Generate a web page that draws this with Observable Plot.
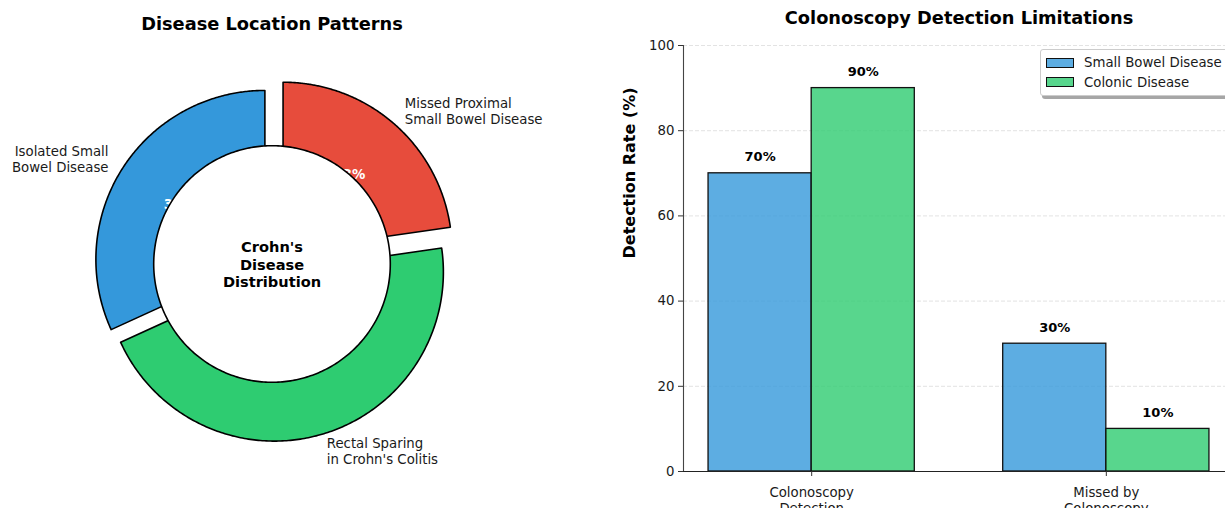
<!DOCTYPE html>
<html>
<head>
<meta charset="utf-8">
<script src="https://cdn.jsdelivr.net/npm/d3@7"></script>
<script src="https://cdn.jsdelivr.net/npm/@observablehq/plot@0.6"></script>
<style>
  html, body { margin: 0; padding: 0; background: #fff; overflow: hidden; width: 1225px; height: 508px; }
  #page { position: relative; width: 1225px; height: 508px; overflow: hidden; font-family: "DejaVu Sans", sans-serif; }
  #donut { position: absolute; left: 0; top: 0; width: 600px; height: 508px; }
  #bars { position: absolute; left: 600px; top: 0; width: 640px; height: 530px; }
  #donut svg, #bars svg { max-width: none !important; }
  #legend {
    position: absolute; left: 1040px; top: 49px;
    padding: 3px 6px 3px 5px;
    border: 1px solid #cccccc; border-radius: 3px; background: #fff;
    box-shadow: 2px 3px 0 rgba(0, 0, 0, 0.35);
    font-family: "DejaVu Sans", sans-serif; font-size: 13.3px; color: #1a1a1a;
    white-space: nowrap;
  }
  #legend .row { display: flex; align-items: center; height: 19.4px; }
  #legend .sw { display: inline-block; width: 26px; height: 8px; border: 1px solid #111; margin-right: 10px; }
</style>
</head>
<body>
<div id="page">
  <div id="donut"></div>
  <div id="bars"></div>
  <div id="legend"></div>
</div>
<script>
// Disease location shares (Crohn's disease distribution)
const locationLabels = ["Isolated Small\nBowel Disease", "Rectal Sparing\nin Crohn's Colitis", "Missed Proximal\nSmall Bowel Disease"];
const locationValues = [35, 50, 25];
const locationColors = ["#3498db", "#2ecc71", "#e74c3c"];
const locationExplode = [0.05, 0.05, 0.1];
const donutTitle = "Disease Location Patterns";
const donutCenterText = "Crohn's\nDisease\nDistribution";

// Detection rates by colonoscopy
const detectionGroups = ["Colonoscopy\nDetection", "Missed by\nColonoscopy"];
const detectionSeries = ["Small Bowel Disease", "Colonic Disease"];
const smallBowelRates = [70, 30];
const colonicRates = [90, 10];
const seriesColors = ["#3498db", "#2ecc71"];
const rateTicks = [0, 20, 40, 60, 80, 100];
const barsTitle = "Colonoscopy Detection Limitations";
const rateLabel = "Detection Rate (%)";

const FONT = "DejaVu Sans, sans-serif";
const TEXT = "#1a1a1a";

// ---------- donut ----------
const DW = 600, DH = 508;      // svg size
const CX = 271.5, CY = 263.5;  // donut centre in svg pixels
const RPX = 169;               // outer radius in pixels
const HOLE = 0.7;              // inner white disc radius (fraction of R)
const LABEL_DIST = 1.1, PCT_DIST = 0.6;
const rad = a => a * Math.PI / 180;

const total = d3.sum(locationValues);
let start = 90;
const wedges = locationValues.map((v, i) => {
  const sweep = v / total * 360;
  const mid = start + sweep / 2;
  const w = {
    i, a0: start, a1: start + sweep, mid,
    ox: locationExplode[i] * Math.cos(rad(mid)),
    oy: locationExplode[i] * Math.sin(rad(mid)),
    color: locationColors[i],
    label: locationLabels[i],
    pct: d3.format(".0f")(v / total * 100) + "%"
  };
  start += sweep;
  return w;
});

const wedgePoints = wedges.flatMap(w => {
  const pts = [{slice: w.i, x: w.ox, y: w.oy, color: w.color}];
  const n = 240;
  for (let k = 0; k <= n; k++) {
    const t = rad(w.a0 + (w.a1 - w.a0) * k / n);
    pts.push({slice: w.i, x: w.ox + Math.cos(t), y: w.oy + Math.sin(t), color: w.color});
  }
  return pts;
});

const holePoints = d3.range(0, 361).map(a => ({x: HOLE * Math.cos(rad(a)), y: HOLE * Math.sin(rad(a))}));

const labelPos = wedges.map(w => ({
  text: w.label,
  x: w.ox + LABEL_DIST * Math.cos(rad(w.mid)),
  y: w.oy + LABEL_DIST * Math.sin(rad(w.mid))
}));
const pctPos = wedges.map(w => ({
  text: w.pct,
  x: w.ox + PCT_DIST * Math.cos(rad(w.mid)),
  y: w.oy + PCT_DIST * Math.sin(rad(w.mid))
}));

const donut = Plot.plot({
  width: DW, height: DH,
  margin: 0,
  x: {domain: [-CX / RPX, (DW - CX) / RPX], axis: null},
  y: {domain: [(CY - DH) / RPX, CY / RPX], axis: null},
  color: {type: "identity"},
  style: {fontFamily: FONT, color: TEXT, background: "transparent", overflow: "visible", maxWidth: "none"},
  marks: [
    Plot.line(wedgePoints, {x: "x", y: "y", z: "slice", fill: "color", stroke: "#000", strokeWidth: 1.6, curve: "linear-closed"}),
    Plot.text(pctPos, {x: "x", y: "y", text: "text", fill: "#fff", fontSize: 13.3, fontWeight: "bold"}),
    Plot.line(holePoints, {x: "x", y: "y", fill: "#fff", stroke: "#000", strokeWidth: 1.6, curve: "linear-closed"}),
    Plot.text([donutCenterText], {x: () => 0, y: () => 0, text: d => d, fontSize: 14.6, fontWeight: "bold", lineHeight: 1.2, fill: "#000"}),
    Plot.text(labelPos.filter(d => d.x < 0), {x: "x", y: "y", text: "text", textAnchor: "end", fontSize: 13.3, lineHeight: 1.2, fill: TEXT}),
    Plot.text(labelPos.filter(d => d.x >= 0), {x: "x", y: "y", text: "text", textAnchor: "start", fontSize: 13.3, lineHeight: 1.2, fill: TEXT}),
    Plot.text([donutTitle], {x: () => 0, frameAnchor: "top", text: d => d, lineAnchor: "bottom", dy: 29.5, fontSize: 17.8, fontWeight: "bold", fill: "#000"})
  ]
});
document.getElementById("donut").append(donut);

// ---------- grouped bars ----------
const BW = 640, BH = 530;
const barWidth = 0.35;
const xPad = 0.05 * (detectionGroups.length - 1 + 2 * barWidth);
const xMin = -barWidth - xPad, xMax = detectionGroups.length - 1 + barWidth + xPad;

const barRows = detectionGroups.flatMap((g, gi) =>
  [smallBowelRates, colonicRates].map((vals, si) => ({
    group: g, series: detectionSeries[si], value: vals[gi],
    x1: gi + (si - 1) * barWidth, x2: gi + si * barWidth,
    color: seriesColors[si]
  }))
);

const bars = Plot.plot({
  width: BW, height: BH,
  marginLeft: 83, marginRight: 6, marginTop: 45, marginBottom: BH - 471,
  x: {domain: [xMin, xMax], axis: null},
  y: {domain: [0, 100], axis: null},
  color: {type: "identity"},
  style: {fontFamily: FONT, color: TEXT, background: "transparent", overflow: "visible", maxWidth: "none"},
  marks: [
    Plot.gridY(rateTicks, {stroke: "#b0b0b0", strokeOpacity: 0.35, strokeDasharray: "4,2", strokeWidth: 1}),
    Plot.rect(barRows, {x1: "x1", x2: "x2", y1: () => 0, y2: "value", fill: "color", fillOpacity: 0.8, stroke: "#111", strokeWidth: 1.3}),
    Plot.ruleY([0], {stroke: "#222", strokeWidth: 1.1}),
    Plot.ruleX([xMin], {stroke: "#444", strokeWidth: 1.1}),
    Plot.axisY({ticks: rateTicks, tickSize: 5, tickPadding: 4, label: null, fontSize: 13.3, stroke: "#333"}),
    Plot.axisX({ticks: detectionGroups.map((g, i) => i), tickFormat: i => detectionGroups[i], tickSize: 5, tickPadding: 9, label: null, fontSize: 13.3, lineHeight: 1.2, stroke: "#333"}),
    Plot.text(barRows, {x: d => (d.x1 + d.x2) / 2, y: "value", text: d => d.value + "%", lineAnchor: "bottom", dy: -12, fontSize: 13, fontWeight: "bold", fill: "#000"}),
    Plot.text([rateLabel], {frameAnchor: "left", text: d => d, rotate: -90, dx: -54, fontSize: 16, fontWeight: "bold", fill: "#000"}),
    Plot.text([barsTitle], {frameAnchor: "top", text: d => d, lineAnchor: "bottom", dy: -22, fontSize: 17.8, fontWeight: "bold", fill: "#000"})
  ]
});
document.getElementById("bars").append(bars);

// legend built from the series names and colours
const legend = document.getElementById("legend");
detectionSeries.forEach((name, i) => {
  const row = document.createElement("div");
  row.className = "row";
  const sw = document.createElement("span");
  sw.className = "sw";
  const c = d3.color(seriesColors[i]);
  c.opacity = 0.8;
  sw.style.background = c.toString();
  const label = document.createElement("span");
  label.textContent = name;
  row.append(sw, label);
  legend.append(row);
});
</script>
</body>
</html>
